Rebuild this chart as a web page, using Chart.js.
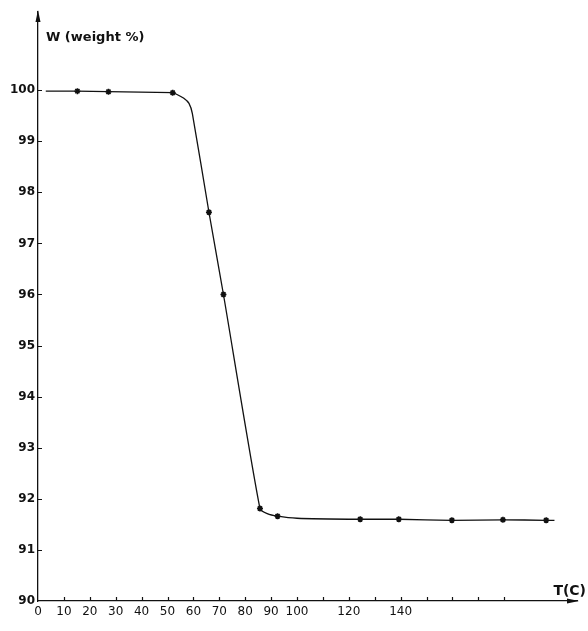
<!DOCTYPE html>
<html>
<head>
<meta charset="utf-8">
<script src="https://cdn.jsdelivr.net/npm/chart.js@4/dist/chart.umd.min.js"></script>
<style>
  html, body { margin: 0; padding: 0; background: #fff; }
  #wrap { width: 588px; height: 631px; position: relative; }
</style>
</head>
<body>
<div id="wrap"><canvas id="chart"></canvas></div>
<script>
// drawn curve (T in C, W in weight %)
const curveT = [3, 15, 27, 52, 53.1, 56.3, 58.3, 59.6, 66, 71.6, 85.7, 88.5, 92.5, 100, 124.4, 139.3, 159.8, 179.5, 196.2, 199.4];
const curveW = [99.98, 99.98, 99.97, 99.95, 99.93, 99.84, 99.74, 99.54, 97.61, 96.0, 91.81, 91.71, 91.66, 91.62, 91.60, 91.60, 91.58, 91.59, 91.58, 91.58];
// measured points (the little star marks)
const markT = [15.2, 27.2, 52, 66, 71.6, 85.7, 92.5, 124.4, 139.3, 159.8, 179.5, 196.2];
const markW = [99.98, 99.97, 99.95, 97.61, 96.0, 91.81, 91.66, 91.60, 91.60, 91.58, 91.59, 91.58];
// axis ticks
const yTicks = [90, 91, 92, 93, 94, 95, 96, 97, 98, 99, 100];
const xTicks = [0, 10, 20, 30, 40, 50, 60, 70, 80, 90, 100, 120, 140];
const xMarks = [10, 20, 30, 40, 50, 60, 70, 80, 90, 100, 110, 120, 130, 140, 150, 160, 170, 180];

const toXY = (xs, ys) => xs.map((x, i) => ({ x: x, y: ys[i] }));

// short inward tick marks, arrow heads and the two axis captions
const axisDeco = {
  id: 'axisDeco',
  afterDraw(chart) {
    const ctx = chart.ctx;
    const a = chart.chartArea;
    const xs = chart.scales.x, ys = chart.scales.y;
    ctx.save();
    ctx.strokeStyle = '#111';
    ctx.fillStyle = '#111';
    ctx.lineWidth = 1.2;
    ctx.beginPath();
    yTicks.slice(1).forEach(v => {
      const y = Math.round(ys.getPixelForValue(v)) + 0.5;
      ctx.moveTo(a.left, y);
      ctx.lineTo(a.left + 4, y);
    });
    xMarks.forEach(v => {
      const x = Math.round(xs.getPixelForValue(v)) + 0.5;
      ctx.moveTo(x, a.bottom);
      ctx.lineTo(x, a.bottom - 4);
    });
    ctx.stroke();

    // arrow on y axis
    ctx.beginPath();
    ctx.moveTo(a.left, a.top - 2);
    ctx.lineTo(a.left - 2.5, a.top + 10);
    ctx.lineTo(a.left + 2.5, a.top + 10);
    ctx.closePath();
    ctx.fill();
    // arrow on x axis
    ctx.beginPath();
    ctx.moveTo(a.right + 2, a.bottom);
    ctx.lineTo(a.right - 10, a.bottom - 2.5);
    ctx.lineTo(a.right - 10, a.bottom + 2.5);
    ctx.closePath();
    ctx.fill();

    ctx.font = 'bold 13px "DejaVu Sans", sans-serif';
    ctx.textBaseline = 'middle';
    ctx.textAlign = 'left';
    ctx.fillText('W (weight %)', a.left + 8, 38);
    ctx.font = 'bold 14px "DejaVu Sans", sans-serif';
    ctx.textAlign = 'right';
    ctx.fillText('T(C)', 586, a.bottom - 10);
    ctx.restore();
  }
};

new Chart(document.getElementById('chart').getContext('2d'), {
  type: 'scatter',
  data: {
    datasets: [
      {
        label: 'curve',
        data: toXY(curveT, curveW),
        showLine: true,
        borderColor: '#111',
        borderWidth: 1.3,
        pointRadius: 0,
        tension: 0.2,
        fill: false
      },
      {
        label: 'measured',
        data: toXY(markT, markW),
        showLine: false,
        pointStyle: 'star',
        pointRadius: 3,
        borderColor: '#111',
        backgroundColor: '#111',
        borderWidth: 1.6
      }
    ]
  },
  options: {
    responsive: true,
    maintainAspectRatio: false,
    animation: false,
    layout: { padding: { top: 12, right: 11, left: 0, bottom: 0 } },
    plugins: {
      legend: { display: false },
      tooltip: { enabled: false }
    },
    scales: {
      x: {
        type: 'linear',
        min: 0,
        max: 208.1,
        afterBuildTicks: s => { s.ticks = xTicks.map(v => ({ value: v })); },
        afterFit: s => { s.height = 30; },
        grid: { display: true, drawOnChartArea: false, drawTicks: false },
        border: { display: true, color: '#111', width: 1.3 },
        ticks: {
          autoSkip: false,
          maxRotation: 0,
          padding: 4,
          color: '#111',
          font: { family: '"DejaVu Sans", sans-serif', size: 12 }
        }
      },
      y: {
        type: 'linear',
        min: 90,
        max: 101.53,
        afterBuildTicks: s => { s.ticks = yTicks.map(v => ({ value: v })); },
        afterFit: s => { s.width = 38; },
        grid: { display: true, drawOnChartArea: false, drawTicks: false },
        border: { display: true, color: '#111', width: 1.3 },
        ticks: {
          autoSkip: false,
          padding: 3,
          color: '#111',
          font: { family: '"DejaVu Sans", sans-serif', size: 12, weight: 'bold' }
        }
      }
    }
  },
  plugins: [axisDeco]
});
</script>
</body>
</html>
